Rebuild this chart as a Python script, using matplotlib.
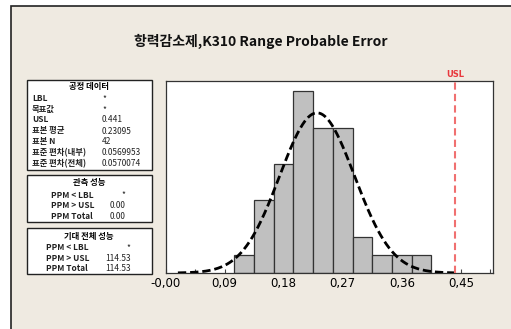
import numpy as np
import matplotlib
matplotlib.use("Agg")
import matplotlib.pyplot as plt
from matplotlib.patches import Rectangle

plt.rcParams['font.family'] = ['Noto Sans CJK KR', 'DejaVu Sans']

# histogram data
bin_edges = [0.105, 0.135, 0.165, 0.195, 0.225, 0.255, 0.285, 0.315, 0.345, 0.375, 0.405]
counts = [1, 4, 6, 10, 8, 8, 2, 1, 1, 1]

# process statistics
usl = 0.441
mean = 0.23095
n = 42
sd_within = 0.0569953
sd_overall = 0.0570074

tick_vals = [0.0, 0.09, 0.18, 0.27, 0.36, 0.45]
tick_labels = ['-0,00', '0,09', '0,18', '0,27', '0,36', '0,45']
minor_vals = [0.045, 0.135, 0.225, 0.315, 0.405, 0.495]

box1_rows = [('LBL', '*'), ('목표값', '*'), ('USL', '0.441'), ('표본 평균', '0.23095'),
             ('표본 N', '42'), ('표준 편차(내부)', '0.0569953'), ('표준 편차(전체)', '0.0570074')]
box2_rows = [('PPM < LBL', '*'), ('PPM > USL', '0.00'), ('PPM Total', '0.00')]
box3_rows = [('PPM < LBL', '*'), ('PPM > USL', '114.53'), ('PPM Total', '114.53')]

W, H = 511, 329
beige = '#EFEAE1'
fig = plt.figure(figsize=(W / 100, H / 100), dpi=100, facecolor='white')

# overlay in pixel coords for background, title and tables
bg = fig.add_axes([0, 0, 1, 1])
bg.set_xlim(0, W)
bg.set_ylim(H, 0)
bg.axis('off')
bg.add_patch(Rectangle((11, 6), W, H, fc=beige, ec='#222222', lw=1.2))

bg.text(261, 41, '항력감소제,K310 Range Probable Error', ha='center', va='center',
        fontsize=10, fontweight='bold', color='#111111')

fs = 6
def draw_box(y0, y1, title, rows, lx, rx, ys, align_right):
    bg.add_patch(Rectangle((26.5, y0), 125, y1 - y0, fc='white', ec='#222222', lw=1))
    bg.text(89, ys[0], title, ha='center', va='center', fontsize=fs, fontweight='bold')
    for (lab, val), y in zip(rows, ys[1:]):
        bg.text(lx, y, lab, ha='left', va='center', fontsize=fs, fontweight='bold', color='#222222')
        bg.text(rx, y, val, ha='right' if align_right else 'left', va='center',
                fontsize=fs, color='#222222')

draw_box(80, 170, '공정 데이터', box1_rows, 32, 102,
         [87, 98.5, 109.5, 120, 131, 141.5, 152.5, 163.5], False)
draw_box(175, 222, '관측 성능', box2_rows, 51, 125.5, [183, 195, 206, 216.5], True)
draw_box(228, 274, '기대 전체 성능', box3_rows, 46, 130.5, [236, 247.5, 258.5, 268.5], True)

# main histogram
ax = fig.add_axes([165.5 / W, (H - 273) / H, (493 - 165.5) / W, (273 - 80.5) / H])
ax.set_facecolor('white')
ax.bar(bin_edges[:-1], counts, width=np.diff(bin_edges), align='edge',
       color='#C0C0C0', edgecolor='#333333', linewidth=0.9, zorder=2)

xs = np.linspace(mean - 3.72 * sd_overall, mean + 3.72 * sd_overall, 300)
bw = bin_edges[1] - bin_edges[0]
ys = n * bw / (sd_overall * np.sqrt(2 * np.pi)) * np.exp(-0.5 * ((xs - mean) / sd_overall) ** 2)
ax.plot(xs, ys, color='black', lw=2.0, dashes=(3, 1.4), zorder=3)

ax.axvline(usl, color='#F07070', lw=1.5, dashes=(3.5, 2), zorder=4)
ax.text(usl, 10.7, 'USL', color='#E8383D', ha='center', va='bottom',
        fontsize=6, fontweight='bold', family=['DejaVu Sans'])

ax.set_xlim(0, 0.499)
ax.set_ylim(0, 10.6)
ax.set_yticks([])
ax.set_xticks(tick_vals)
ax.set_xticklabels(tick_labels, family=['Liberation Sans Narrow', 'DejaVu Sans'], fontsize=8.5)
ax.set_xticks(minor_vals, minor=True)
ax.tick_params(axis='x', which='both', direction='in', length=3, width=0.8,
               color='#444444', pad=3)
for s in ax.spines.values():
    s.set_color('#333333')
    s.set_linewidth(0.9)

fig.savefig('out.png', dpi=100, facecolor='white')
